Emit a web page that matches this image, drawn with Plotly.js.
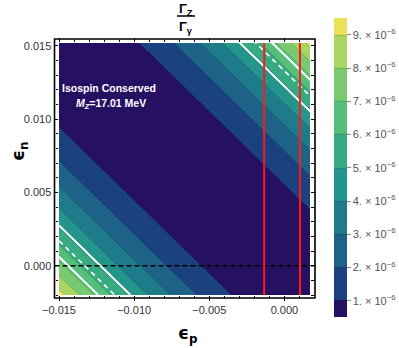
<!DOCTYPE html>
<html>
<head>
<meta charset="utf-8">
<script src="https://cdn.plot.ly/plotly-3.0.1.min.js"></script>
<style>html,body{margin:0;padding:0;background:#fff;}#chart{width:399px;height:348px;}</style>
</head>
<body>
<div id="chart"></div>
<script>
// grid of eps_p (x) and eps_n (y)
const epsP = [-0.015,-0.014,-0.013,-0.012,-0.011,-0.010,-0.009,-0.008,-0.007,-0.006,-0.005,-0.004,-0.003,-0.002,-0.001,0.000,0.001,0.002];
const epsN = [-0.002,-0.001,0.000,0.001,0.002,0.003,0.004,0.005,0.006,0.007,0.008,0.009,0.010,0.011,0.012,0.013,0.014,0.015,0.016];
// ratio Gamma_Z/Gamma_gamma read along the sum eps_p+eps_n (contours are diagonal)
const sumVals = [-0.017,-0.016,-0.015,-0.014,-0.013,-0.012,-0.011,-0.010,-0.009,-0.008,-0.007,-0.006,-0.005,-0.004,-0.003,-0.002,-0.001,0.000,
                 0.001,0.002,0.003,0.004,0.005,0.006,0.007,0.008,0.009,0.010,0.011,0.012,0.013,0.014,0.015,0.016,0.017,0.018];
const ratioVals = [9.39e-6,8.32e-6,7.31e-6,6.37e-6,5.49e-6,4.68e-6,3.93e-6,3.25e-6,2.63e-6,2.08e-6,1.59e-6,1.17e-6,8.1e-7,5.2e-7,2.9e-7,1.3e-7,3e-8,0,
                   3e-8,1.3e-7,2.9e-7,5.2e-7,8.1e-7,1.17e-6,1.59e-6,2.08e-6,2.63e-6,3.25e-6,3.93e-6,4.68e-6,5.49e-6,6.37e-6,7.31e-6,8.32e-6,9.39e-6,1.053e-5];
const bandColors = ['#261062','#1b417e','#1e6387','#1e7c8a','#24958a','#38aa82','#55bf79','#79c96e','#a9d563','#ebe15a'];
const cbTickVals = [1e-6,2e-6,3e-6,4e-6,5e-6,6e-6,7e-6,8e-6,9e-6];
const cbTickText = ['1','2','3','4','5','6','7','8','9'].map(d => d + '. × 10<sup>−6</sup>');
const whiteSolidLevels = [4.88e-6, 6.74e-6];
const whiteDashedLevel = 5.75e-6;
const redLinesX = [-0.00135, 0.00103];

// build z table from the read profile
const sumIndex = {};
sumVals.forEach((s, k) => { sumIndex[Math.round(s * 1000)] = k; });
const zGrid = epsN.map(yv => epsP.map(xv => ratioVals[sumIndex[Math.round((xv + yv) * 1000)]]));

const colorscale = bandColors.map((c, i) => [i / (bandColors.length - 1), c]);

const traces = [
  {
    type: 'contour', x: epsP, y: epsN, z: zGrid,
    autocontour: false,
    contours: {start: 1e-6, end: 9.05e-6, size: 1e-6, coloring: 'fill', showlines: true},
    line: {color: 'rgba(0,0,0,0.22)', width: 0.6, smoothing: 0},
    colorscale: colorscale,
    hoverinfo: 'skip',
    colorbar: {
      x: 1.0956, xanchor: 'left', xpad: 0,
      y: 0.5048, yanchor: 'middle', ypad: 0,
      len: 299, lenmode: 'pixels', thickness: 13,
      outlinewidth: 0,
      tickvals: cbTickVals, ticktext: cbTickText,
      ticks: 'outside', ticklen: 4, tickcolor: '#888',
      tickfont: {family: 'Liberation Sans, Arial, sans-serif', size: 11, color: '#555'}
    }
  },
  {
    type: 'contour', x: epsP, y: epsN, z: zGrid, showscale: false, hoverinfo: 'skip',
    autocontour: false,
    contours: {start: whiteSolidLevels[0], end: whiteSolidLevels[1] + 1e-9, size: whiteSolidLevels[1] - whiteSolidLevels[0], coloring: 'none'},
    line: {color: 'white', width: 2, smoothing: 0}
  },
  {
    type: 'contour', x: epsP, y: epsN, z: zGrid, showscale: false, hoverinfo: 'skip',
    autocontour: false,
    contours: {start: whiteDashedLevel, end: whiteDashedLevel, size: 1e-6, coloring: 'none'},
    line: {color: 'white', width: 1.6, dash: '5px,4px', smoothing: 0}
  }
];

const shapes = [
  // frame
  {type: 'rect', xref: 'paper', yref: 'paper', x0: -0.0179, x1: 1.0199, y0: -0.012, y1: 1.016,
   line: {color: 'black', width: 1.6}, fillcolor: 'rgba(0,0,0,0)'},
  // dashed zero line
  {type: 'line', xref: 'paper', yref: 'y', x0: -0.0179, x1: 1.0199, y0: 0, y1: 0,
   line: {color: 'black', width: 1.5, dash: '5px,3px'}},
  // fraction bar of the title
  {type: 'line', xref: 'paper', yref: 'paper', x0: (177 - 59) / 251, x1: (195 - 59) / 251,
   y0: (295 - 16) / 252, y1: (295 - 16) / 252, line: {color: 'black', width: 1.5}}
];
redLinesX.forEach(xv => shapes.push({type: 'line', xref: 'x', yref: 'paper', x0: xv, x1: xv, y0: 0, y1: 1,
  line: {color: '#ff1a1a', width: 2}}));

const font = 'Liberation Sans, Arial, sans-serif';
function ann(px, py, text, size, color, fam, extra) {
  return Object.assign({xref: 'paper', yref: 'paper', x: (px - 59) / 251, y: (295 - py) / 252,
    xanchor: 'center', yanchor: 'middle', text: text, showarrow: false,
    font: {family: fam || font, size: size, color: color}}, extra || {});
}
const annotations = [
  ann(109, 88, '<b>Isospin Conserved</b>', 10.5, 'white'),
  ann(110.5, 104, '<b><i>M</i><sub><i>Z</i></sub>=17.01 MeV</b>', 10.5, 'white'),
  ann(186, 9, '<b>Γ<sub>Z</sub></b>', 13, 'black'),
  ann(186, 28, '<b>Γ<sub>γ</sub></b>', 13, 'black'),
  ann(187, 335, '<b>ϵ<sub>p</sub></b>', 17, 'black', 'DejaVu Sans, sans-serif'),
  ann(19, 152, '<b>ϵ<sub>n</sub></b>', 17, 'black', 'DejaVu Sans, sans-serif', {textangle: -90})
];

const axisCommon = {
  showgrid: false, zeroline: false, showline: false,
  ticks: 'outside', ticklen: 4.5, tickwidth: 1, tickcolor: 'black', mirror: 'ticks',
  dtick: 0.005, tick0: 0, tickformat: '.3f',
  tickfont: {family: font, size: 11, color: '#333'},
  minor: {dtick: 0.001, tick0: 0, ticks: 'outside', ticklen: 2.5, tickwidth: 1, tickcolor: 'black'}
};

const layout = {
  width: 399, height: 348,
  margin: {l: 59, r: 89, t: 43, b: 53, autoexpand: false},
  paper_bgcolor: 'white', plot_bgcolor: 'white',
  showlegend: false,
  xaxis: Object.assign({}, axisCommon, {range: [-0.015, 0.0017]}),
  yaxis: Object.assign({}, axisCommon, {range: [-0.002, 0.0152]}),
  shapes: shapes,
  annotations: annotations
};

Plotly.newPlot('chart', traces, layout, {displayModeBar: false, staticPlot: true});
</script>
</body>
</html>
